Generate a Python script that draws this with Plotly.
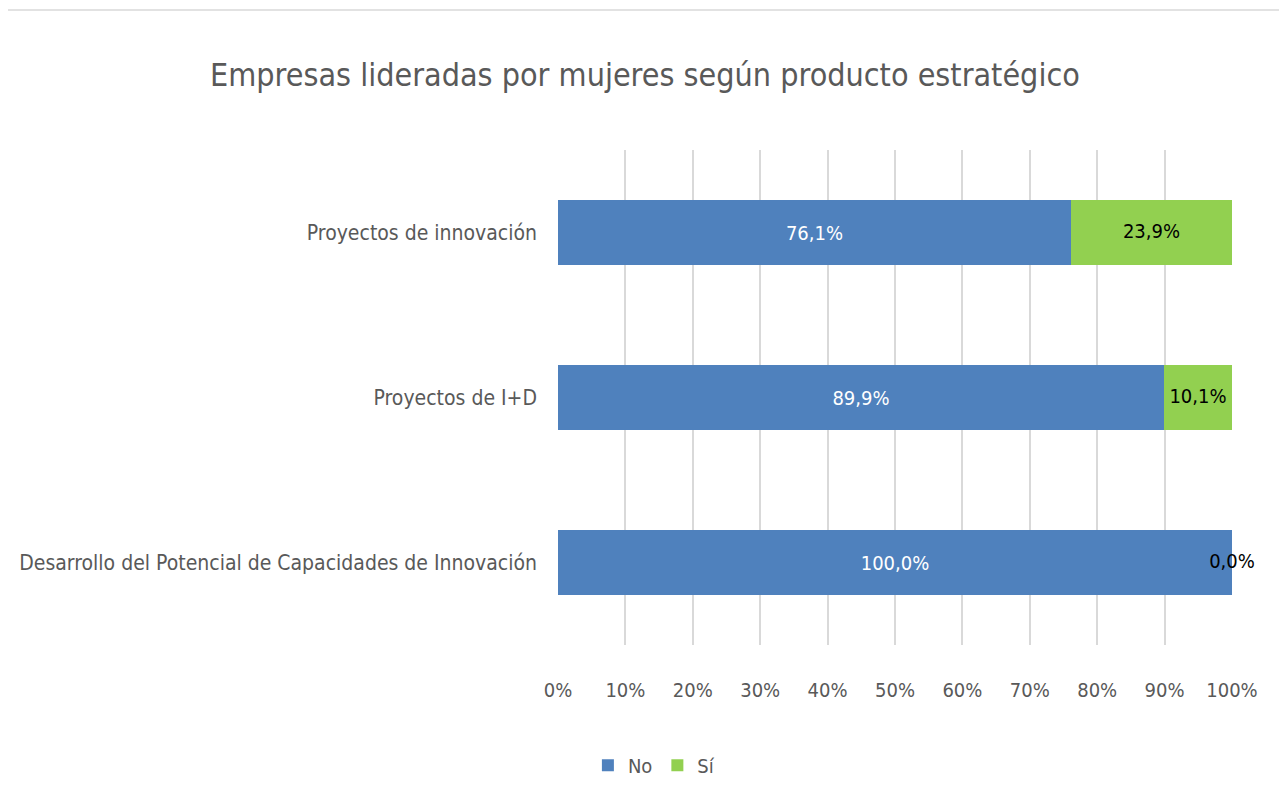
import plotly.graph_objects as go

# Data
categorias = ['Desarrollo del Potencial de Capacidades de Innovación',
              'Proyectos de I+D',
              'Proyectos de innovación']
no_vals = [100.0, 89.9, 76.1]
si_vals = [0.0, 10.1, 23.9]

FONT = 'DejaVu Sans Condensed, Liberation Sans Narrow, Arial Narrow, sans-serif'
GRAY = '#595959'

fig = go.Figure()

fig.add_trace(go.Bar(
    y=categorias, x=no_vals, name='No', orientation='h',
    marker=dict(color='#4F81BD', line=dict(width=0)),
    text=[f'{v:.1f}'.replace('.', ',') + '%' for v in no_vals],
    textposition='inside', insidetextanchor='middle',
    textfont=dict(color='white', size=20, family=FONT),
    hoverinfo='skip'))

fig.add_trace(go.Bar(
    y=categorias, x=si_vals, name='Sí', orientation='h',
    marker=dict(color='#92D050', line=dict(width=0)),
    hoverinfo='skip'))

# Sí labels centred in their segment (also shows the 0,0% label)
fig.add_trace(go.Scatter(
    y=categorias, x=[n + s / 2 for n, s in zip(no_vals, si_vals)],
    mode='text', showlegend=False, cliponaxis=False,
    text=[f'{v:.1f}'.replace('.', ',') + '%' for v in si_vals],
    textfont=dict(color='black', size=20, family=FONT),
    hoverinfo='skip'))

# page body adds an 8px offset, so the figure is 8px smaller each way
fig.update_layout(
    barmode='stack', bargap=0.603,
    width=1279, height=804,
    margin=dict(l=550, r=55, t=142, b=167, autoexpand=False),
    paper_bgcolor='white', plot_bgcolor='white',
    font=dict(family=FONT, color=GRAY, size=20),
    title=dict(text='Empresas lideradas por mujeres según producto estratégico',
               x=0.498, xref='container', xanchor='center', y=0.917, yanchor='middle',
               font=dict(size=32, color=GRAY, family=FONT)),
    xaxis=dict(range=[0, 100], tickvals=[0, 10, 20, 30, 40, 50, 60, 70, 80, 90, 100],
               ticktext=[f'{v}%' for v in range(0, 101, 10)],
               showgrid=True, gridcolor='#D9D9D9', gridwidth=1.5,
               zeroline=False, showline=False, ticklabelstandoff=31,
               tickfont=dict(size=20, color=GRAY), fixedrange=True),
    yaxis=dict(showgrid=False, zeroline=False, ticklabelstandoff=20,
               tickfont=dict(size=21, color=GRAY), fixedrange=True),
    legend=dict(orientation='h', x=0.505, xref='container', xanchor='center',
                y=0.058, yref='container', yanchor='middle',
                font=dict(size=20, color=GRAY), itemwidth=30,
                traceorder='normal'),
    shapes=[dict(type='rect', xref='paper', yref='paper',
                 x0=-0.82, x1=1.0757, y0=-0.4, y1=1.2828,
                 line=dict(color='#D9D9D9', width=1.5), layer='below')],
    showlegend=True,
)

fig.write_html('out.html')
